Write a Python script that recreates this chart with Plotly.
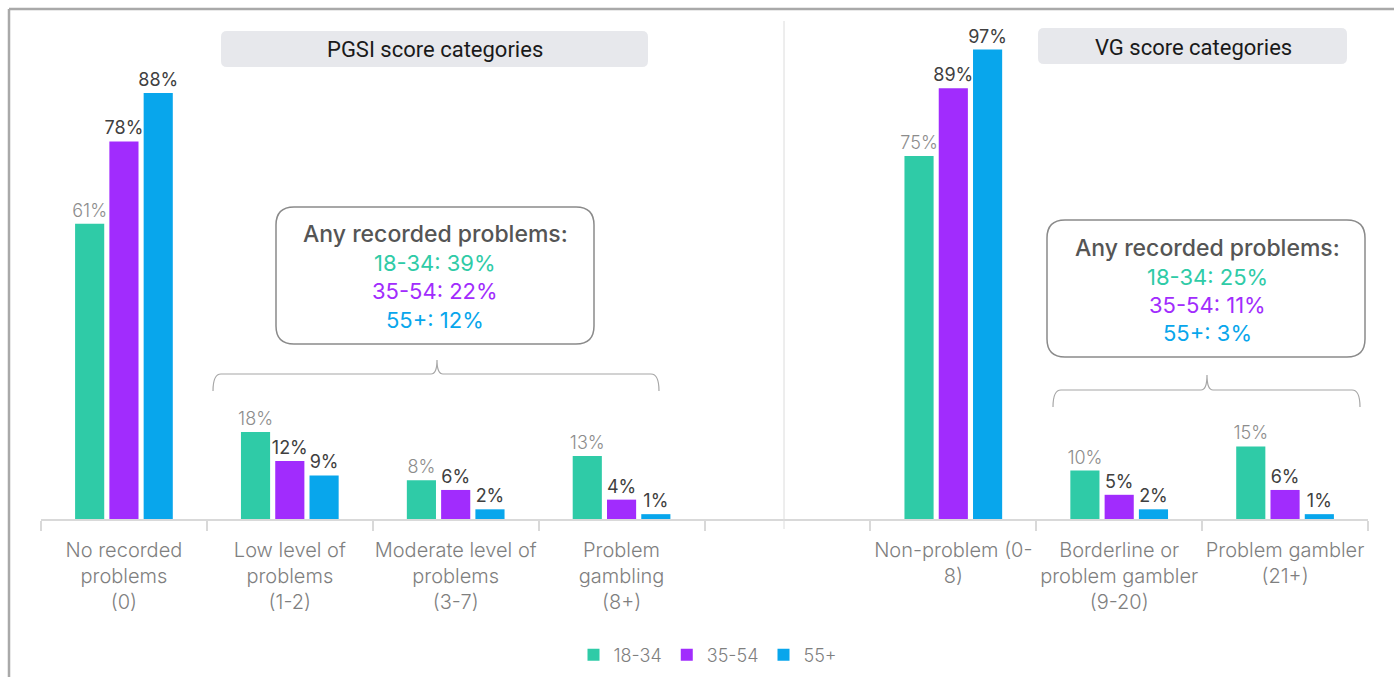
import plotly.graph_objects as go

# ---- data -------------------------------------------------------------
pgsi_categories = ["No recorded<br>problems<br>(0)", "Low level of<br>problems<br>(1-2)",
                   "Moderate level of<br>problems<br>(3-7)", "Problem<br>gambling<br>(8+)"]
vg_categories = ["Non-problem (0-<br>8)", "Borderline or<br>problem gambler<br>(9-20)",
                 "Problem gambler<br>(21+)"]
spacer = " "

age_groups = ["18-34", "35-54", "55+"]
pgsi_values = {
    "18-34": [61, 18, 8, 13],
    "35-54": [78, 12, 6, 4],
    "55+": [88, 9, 2, 1],
}
vg_values = {
    "18-34": [75, 10, 15],
    "35-54": [89, 5, 6],
    "55+": [97, 2, 1],
}
pgsi_any = {"18-34": 39, "35-54": 22, "55+": 12}
vg_any = {"18-34": 25, "35-54": 11, "55+": 3}

colors = {"18-34": "#2FCBA7", "35-54": "#A12CFD", "55+": "#08A6EC"}
label_style = {
    "18-34": dict(color="#8C8C8C", weight=300),
    "35-54": dict(color="#404040", weight=400),
    "55+": dict(color="#404040", weight=400),
}

W, H = 1394, 677
L, R, B, T = 41, 1368, 519, 35


def px(x):
    return (x - L) / (R - L)


def py(y):
    return (B - y) / (B - T)


def rrect(x0, y0, x1, y1, r):
    pts = [
        ("M", [(x0 + r, y0)]), ("L", [(x1 - r, y0)]), ("Q", [(x1, y0), (x1, y0 + r)]),
        ("L", [(x1, y1 - r)]), ("Q", [(x1, y1), (x1 - r, y1)]), ("L", [(x0 + r, y1)]),
        ("Q", [(x0, y1), (x0, y1 - r)]), ("L", [(x0, y0 + r)]), ("Q", [(x0, y0), (x0 + r, y0)]),
    ]
    s = ""
    for cmd, ps in pts:
        s += cmd + " " + " ".join(f"{px(a):.5f},{py(b):.5f}" for a, b in ps) + " "
    return s + "Z"


def brace(a, b, m, t, yb, yp):
    pts = [
        ("M", [(a, yb)]), ("Q", [(a, t), (a + 8, t)]), ("L", [(m - 6, t)]),
        ("Q", [(m, t), (m, yp)]), ("Q", [(m, t), (m + 6, t)]), ("L", [(b - 8, t)]),
        ("Q", [(b, t), (b, yb)]),
    ]
    s = ""
    for cmd, ps in pts:
        s += cmd + " " + " ".join(f"{px(x):.5f},{py(y):.5f}" for x, y in ps) + " "
    return s


all_categories = pgsi_categories + [spacer] + vg_categories

fig = go.Figure()
for g in age_groups:
    fig.add_trace(go.Bar(
        name=g,
        x=pgsi_categories + vg_categories,
        y=pgsi_values[g] + vg_values[g],
        marker=dict(color=colors[g], line=dict(width=0)),
        texttemplate="%{y}%",
        textposition="outside",
        constraintext="none",
        cliponaxis=False,
        textfont=dict(family="Inter", size=18, **label_style[g]),
        hoverinfo="skip",
    ))

shapes = []
# outer frame (left and top edges)
shapes.append(dict(type="line", xref="paper", yref="paper", x0=px(9), x1=px(9), y0=py(9), y1=py(677),
                   line=dict(color="#A9A9A9", width=2.5)))
shapes.append(dict(type="line", xref="paper", yref="paper", x0=px(9), x1=px(1394), y0=py(9), y1=py(9),
                   line=dict(color="#A9A9A9", width=2.5)))
# divider between the two panels
shapes.append(dict(type="line", xref="paper", yref="paper", x0=px(784), x1=px(784), y0=py(21), y1=py(529),
                   line=dict(color="#DCDCDC", width=1)))
# header pills
shapes.append(dict(type="path", xref="paper", yref="paper", path=rrect(221, 31, 648, 67, 6),
                   fillcolor="#E7E8EC", line=dict(width=0), layer="below"))
shapes.append(dict(type="path", xref="paper", yref="paper", path=rrect(1038, 28, 1347, 64, 6),
                   fillcolor="#E7E8EC", line=dict(width=0), layer="below"))
# summary boxes
shapes.append(dict(type="path", xref="paper", yref="paper", path=rrect(276, 207, 594, 344, 18),
                   fillcolor="white", line=dict(color="#8A8A8A", width=1.5)))
shapes.append(dict(type="path", xref="paper", yref="paper", path=rrect(1047, 220, 1365, 357, 18),
                   fillcolor="white", line=dict(color="#8A8A8A", width=1.5)))
# braces
shapes.append(dict(type="path", xref="paper", yref="paper", path=brace(213, 659, 437, 374, 391, 360),
                   line=dict(color="#A6A6A6", width=1.2)))
shapes.append(dict(type="path", xref="paper", yref="paper", path=brace(1053, 1360, 1207, 390, 407, 375),
                   line=dict(color="#A6A6A6", width=1.2)))

annotations = []


def text(x, y, s, size, color, family="Inter", weight=400):
    annotations.append(dict(xref="paper", yref="paper", x=px(x), y=py(y), text=s, showarrow=False,
                            xanchor="center", yanchor="middle",
                            font=dict(family=family, size=size, color=color, weight=weight)))


text(435, 50, "PGSI score categories", 22, "#1A1A1A", family="Roboto")
text(1193, 47, "VG score categories", 22, "#1A1A1A", family="Roboto")

for cx, ys, vals in [(435, [234, 263, 291, 320], pgsi_any), (1207, [248, 277, 305, 333], vg_any)]:
    text(cx, ys[0], "Any recorded problems:", 23, "#555555", weight=500)
    for g, yy in zip(age_groups, ys[1:]):
        text(cx, yy, f"{g}: {vals[g]}%", 22, colors[g], weight=400)

fig.update_layout(
    width=W, height=H,
    margin=dict(l=L, r=W - R, t=T, b=H - B, autoexpand=False),
    paper_bgcolor="white", plot_bgcolor="white",
    barmode="group", bargap=0.38, bargroupgap=0.15,
    shapes=shapes, annotations=annotations,
    showlegend=True,
    legend=dict(orientation="h", x=px(708), xanchor="center", y=py(655), yanchor="middle",
                font=dict(family="Inter", size=18, color="#7F7F7F", weight=300),
                itemwidth=30, traceorder="normal"),
    xaxis=dict(type="category", categoryorder="array", categoryarray=all_categories,
               range=[-0.5, len(all_categories) - 0.5], automargin=False,
               showline=True, linecolor="#D9D9D9", linewidth=1.5,
               ticks="outside", tickson="boundaries", ticklen=10, tickcolor="#D9D9D9", tickwidth=1.5,
               ticklabelstandoff=12, tickangle=0,
               tickfont=dict(family="Inter", size=20, color="#7F7F7F", weight=300),
               showgrid=False, zeroline=False, fixedrange=True),
    yaxis=dict(range=[0, 100], visible=False, showgrid=False, zeroline=False, fixedrange=True),
)

fig.write_html("out.html", config={"displayModeBar": False})
